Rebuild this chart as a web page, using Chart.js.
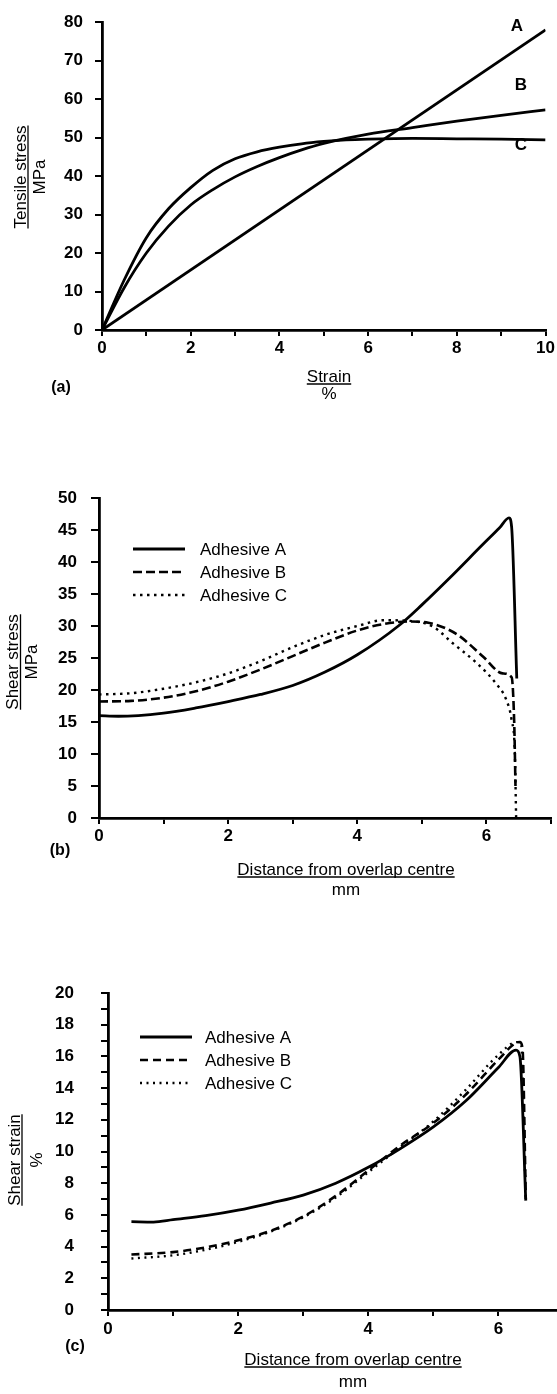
<!DOCTYPE html>
<html>
<head>
<meta charset="utf-8">
<script src="https://cdn.jsdelivr.net/npm/chart.js@4.4.0/dist/chart.umd.min.js"></script>
<style>
  html, body { margin: 0; padding: 0; background: #fff; overflow: hidden; }
  canvas { position: absolute; left: 0; }
</style>
</head>
<body>
<canvas id="chartA" width="557" height="420" style="top:0px"></canvas>
<canvas id="chartB" width="557" height="500" style="top:420px"></canvas>
<canvas id="chartC" width="557" height="474" style="top:920px"></canvas>
<script>
// (a) contrainte de traction en fonction de la déformation
const strainA = [0, 10];
const tensileA = [0, 78];
const strainBC = [0, 0.5, 1, 1.5, 2, 2.5, 3, 3.5, 4, 4.5, 5, 5.5, 6, 7, 8, 9, 10];
const tensileB = [0, 11, 20, 27, 32.5, 36.5, 39.8, 42.5, 44.8, 46.8, 48.5, 49.8, 50.9, 52.6, 54.3, 55.8, 57.2];
const tensileC = [0, 13, 24, 31.5, 37, 41.5, 44.5, 46.3, 47.5, 48.4, 49, 49.4, 49.6, 49.8, 49.7, 49.6, 49.4];
const tensileTicks = [0, 10, 20, 30, 40, 50, 60, 70, 80];
const strainTicks = [0, 2, 4, 6, 8, 10];

// (b) contrainte de cisaillement le long du recouvrement
const distStressA = [0, 0.3, 1, 1.5, 2, 2.5, 3, 3.5, 4, 4.66, 5, 5.43, 5.95, 6.2, 6.35, 6.39, 6.47];
const shearStressA = [16, 15.9, 16.4, 17.2, 18.2, 19.3, 20.7, 22.8, 25.5, 30.2, 33.3, 37.5, 42.8, 45.3, 46.9, 45.5, 21.8];
const distStressB = [0, 0.5, 1, 1.5, 2, 2.5, 3, 3.5, 4, 4.4, 4.8, 5.1, 5.4, 5.6, 5.95, 6.25, 6.39, 6.43, 6.45];
const shearStressB = [18.2, 18.3, 18.8, 19.8, 21.3, 23.2, 25.3, 27.4, 29.3, 30.3, 30.7, 30.5, 29.5, 28.3, 25.2, 22.6, 22, 15, 5];
const distStressC = [0, 0.5, 1, 1.5, 2, 2.5, 3, 3.5, 4, 4.4, 4.8, 5.17, 5.48, 5.85, 6.15, 6.31, 6.39, 6.44, 6.46];
const shearStressC = [19.3, 19.5, 20.2, 21.2, 22.6, 24.5, 26.7, 28.6, 30, 30.9, 30.8, 29.9, 27.3, 24.2, 21, 18.4, 15.3, 10.1, 0];
const shearStressTicks = [0, 5, 10, 15, 20, 25, 30, 35, 40, 45, 50];

// (c) déformation de cisaillement le long du recouvrement
const distStrainA = [0.36, 0.7, 1, 1.5, 2, 2.5, 3, 3.5, 4, 4.5, 5, 5.5, 6, 6.27, 6.33, 6.42];
const shearStrainA = [5.57, 5.55, 5.7, 5.95, 6.3, 6.75, 7.25, 8.0, 9.0, 10.2, 11.55, 13.2, 15.3, 16.4, 16.0, 6.9];
const distStrainB = [0.36, 1, 1.5, 2, 2.5, 3, 3.5, 4, 4.5, 5, 5.5, 6, 6.25, 6.33, 6.37, 6.42];
const shearStrainB = [3.5, 3.65, 3.95, 4.4, 5.0, 5.9, 7.2, 8.8, 10.4, 11.8, 13.6, 15.8, 16.8, 16.9, 16.5, 7];
const distStrainC = [0.36, 1, 1.5, 2, 2.5, 3, 3.5, 4, 4.5, 5, 5.5, 6, 6.28, 6.35, 6.42];
const shearStrainC = [3.25, 3.45, 3.8, 4.3, 4.95, 5.85, 7.1, 8.7, 10.3, 11.9, 13.9, 16.1, 16.9, 16.7, 7];
const shearStrainTicks = [0, 2, 4, 6, 8, 10, 12, 14, 16, 18, 20];
const distTicks = [0, 2, 4, 6];

const labelFont = "'Liberation Sans', Arial, sans-serif";

// transformer deux listes en points {x, y}
function pts(xs, ys) {
  return xs.map((x, i) => ({ x: x, y: ys[i] }));
}

// titres, légende et étiquettes dessinés sur le canvas
const decorPlugin = {
  id: 'decor',
  afterDraw(chart, args, opts) {
    const ctx = chart.ctx;
    ctx.save();
    ctx.fillStyle = '#000';
    ctx.strokeStyle = '#000';

    // titre de l'axe y (tourné)
    if (opts.yTitle) {
      const t = opts.yTitle;
      ctx.font = '17px ' + labelFont;
      ctx.textAlign = 'center';
      ctx.textBaseline = 'alphabetic';
      t.lines.forEach((txt, i) => {
        ctx.save();
        ctx.translate(t.x[i], t.y);
        ctx.rotate(-Math.PI / 2);
        ctx.fillText(txt, 0, 0);
        if (i === 0) {
          const w = ctx.measureText(txt).width;
          ctx.lineWidth = 1.3;
          ctx.beginPath();
          ctx.moveTo(-w / 2, t.ul);
          ctx.lineTo(w / 2, t.ul);
          ctx.stroke();
        }
        ctx.restore();
      });
    }

    // titre de l'axe x
    if (opts.xTitle) {
      const t = opts.xTitle;
      ctx.font = '17px ' + labelFont;
      ctx.textAlign = 'center';
      ctx.textBaseline = 'alphabetic';
      t.lines.forEach((txt, i) => {
        ctx.fillText(txt, t.x, t.y[i]);
        if (i === 0) {
          const w = ctx.measureText(txt).width;
          ctx.lineWidth = 1.3;
          ctx.beginPath();
          ctx.moveTo(t.x - w / 2, t.y[0] + t.ul);
          ctx.lineTo(t.x + w / 2, t.y[0] + t.ul);
          ctx.stroke();
        }
      });
    }

    // (a), (b), (c) et lettres des courbes
    ctx.textAlign = 'center';
    ctx.textBaseline = 'middle';
    (opts.marks || []).forEach(m => {
      ctx.font = 'bold ' + m.size + 'px ' + labelFont;
      ctx.fillText(m.text, m.x, m.y);
    });

    // légende à partir des datasets
    if (opts.legend) {
      const l = opts.legend;
      chart.data.datasets.forEach((ds, i) => {
        const y = l.ys[i];
        ctx.save();
        ctx.lineWidth = ds.borderWidth;
        ctx.setLineDash(ds.borderDash || []);
        ctx.beginPath();
        ctx.moveTo(l.x1, y);
        ctx.lineTo(l.x2, y);
        ctx.stroke();
        ctx.restore();
        ctx.font = '17px ' + labelFont;
        ctx.textAlign = 'left';
        ctx.textBaseline = 'middle';
        ctx.fillText(ds.label, l.tx, y + 1);
      });
    }
    ctx.restore();
  }
};

// options communes des axes
function makeAxis(o) {
  return {
    type: 'linear',
    min: o.min,
    max: o.max,
    afterFit: o.fit,
    border: { display: true, color: '#000', width: 2.8 },
    grid: { drawOnChartArea: false, drawTicks: true, tickLength: o.tickLength, color: '#000', lineWidth: 2 },
    ticks: {
      stepSize: o.step,
      includeBounds: false,
      autoSkip: false,
      maxRotation: 0,
      padding: o.padding,
      color: '#000',
      font: { family: labelFont, size: 17, weight: 'bold' },
      callback: v => (o.labels.includes(v) ? String(v) : '')
    }
  };
}

function makeChart(id, datasets, cfg) {
  return new Chart(document.getElementById(id), {
    type: 'line',
    data: { datasets: datasets },
    options: {
      responsive: false,
      animation: false,
      events: [],
      layout: { padding: { left: 0, right: cfg.right, top: cfg.top, bottom: 0 } },
      elements: { point: { radius: 0 }, line: { cubicInterpolationMode: 'monotone', borderColor: '#000', fill: false } },
      scales: {
        x: makeAxis({ min: 0, max: cfg.xMax, step: 1, labels: cfg.xLabels, tickLength: 6, padding: cfg.xPad,
          fit: s => { s.height = cfg.xHeight; } }),
        y: makeAxis({ min: 0, max: cfg.yMax, step: cfg.yStep, labels: cfg.yLabels, tickLength: cfg.yTick, padding: cfg.yPad,
          fit: s => { s.width = cfg.left; } })
      },
      plugins: {
        legend: { display: false },
        tooltip: { enabled: false },
        decor: cfg.decor
      }
    },
    plugins: [decorPlugin]
  });
}

// graphique (a)
makeChart('chartA', [
  { label: 'A', data: pts(strainA, tensileA), borderColor: '#000', borderWidth: 2.8 },
  { label: 'B', data: pts(strainBC, tensileB), borderColor: '#000', borderWidth: 2.8 },
  { label: 'C', data: pts(strainBC, tensileC), borderColor: '#000', borderWidth: 2.8 }
], {
  left: 102, right: 10, top: 11, xHeight: 90,
  xMax: 10, xLabels: strainTicks, xPad: 2,
  yMax: 80, yStep: 10, yLabels: tensileTicks, yTick: 7, yPad: 12,
  decor: {
    yTitle: { lines: ['Tensile stress', 'MPa'], x: [25.5, 45], y: 177, ul: 2.5 },
    xTitle: { lines: ['Strain', '%'], x: 329, y: [382, 399], ul: 2 },
    marks: [
      { text: '(a)', x: 61, y: 388, size: 16 },
      { text: 'A', x: 517, y: 26, size: 17 },
      { text: 'B', x: 521, y: 85, size: 17 },
      { text: 'C', x: 521, y: 145, size: 17 }
    ]
  }
});

// graphique (b)
makeChart('chartB', [
  { label: 'Adhesive A', data: pts(distStressA, shearStressA), borderColor: '#000', borderWidth: 2.8 },
  { label: 'Adhesive B', data: pts(distStressB, shearStressB), borderColor: '#000', borderWidth: 2.6, borderDash: [9, 4] },
  { label: 'Adhesive C', data: pts(distStressC, shearStressC), borderColor: '#000', borderWidth: 2.4, borderDash: [2.5, 4.5] }
], {
  left: 99, right: 6, top: 78, xHeight: 102,
  xMax: 7, xLabels: distTicks, xPad: 2,
  yMax: 50, yStep: 5, yLabels: shearStressTicks, yTick: 8, yPad: 14,
  decor: {
    yTitle: { lines: ['Shear stress', 'MPa'], x: [18, 37], y: 242, ul: 2.5 },
    xTitle: { lines: ['Distance from overlap centre', 'mm'], x: 346, y: [455, 475], ul: 2 },
    marks: [{ text: '(b)', x: 60, y: 431, size: 16 }],
    legend: { x1: 133, x2: 185, tx: 200, ys: [129, 152, 175] }
  }
});

// graphique (c)
makeChart('chartC', [
  { label: 'Adhesive A', data: pts(distStrainA, shearStrainA), borderColor: '#000', borderWidth: 2.8 },
  { label: 'Adhesive B', data: pts(distStrainB, shearStrainB), borderColor: '#000', borderWidth: 2.6, borderDash: [8, 5] },
  { label: 'Adhesive C', data: pts(distStrainC, shearStrainC), borderColor: '#000', borderWidth: 2.4, borderDash: [2, 4.5] }
], {
  left: 108, right: 0, top: 73, xHeight: 84,
  xMax: 6.9, xLabels: distTicks, xPad: 3,
  yMax: 20, yStep: 1, yLabels: shearStrainTicks, yTick: 7, yPad: 27,
  decor: {
    yTitle: { lines: ['Shear strain', '%'], x: [19.5, 41.5], y: 240, ul: 2.5 },
    xTitle: { lines: ['Distance from overlap centre', 'mm'], x: 353, y: [445, 467], ul: 2 },
    marks: [{ text: '(c)', x: 75, y: 427, size: 16 }],
    legend: { x1: 140, x2: 192, tx: 205, ys: [117, 140, 163] }
  }
});
</script>
</body>
</html>
